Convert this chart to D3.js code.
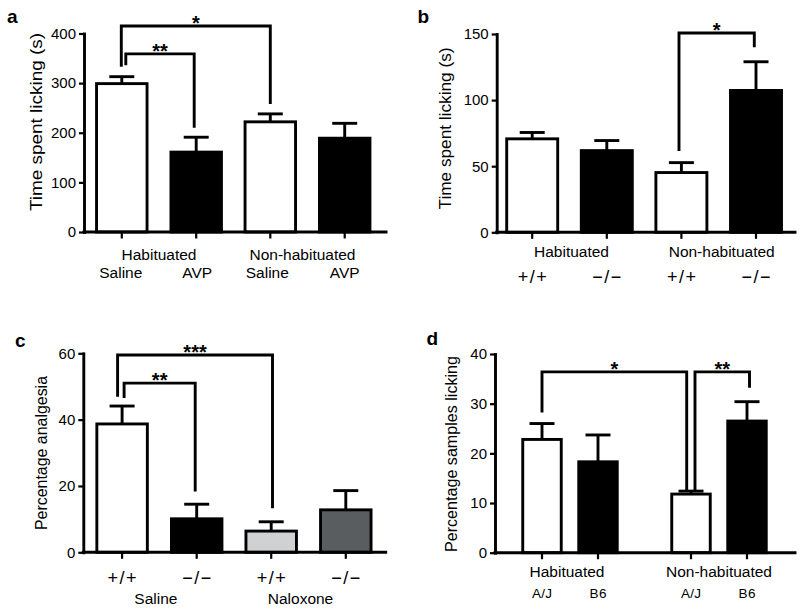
<!DOCTYPE html>
<html><head><meta charset="utf-8">
<script src="https://cdn.jsdelivr.net/npm/d3@7"></script>
<style>
body{margin:0;background:#fff}
svg text{font-family:"Liberation Sans",Arial,Helvetica,sans-serif;fill:#000}
</style></head><body>
<svg id="chart" width="800" height="610"></svg>
<script>
// ---------- DATA ----------
// Panel a
const aGroups = ["Habituated", "Non-habituated"];
const aCategories = ["Saline", "AVP", "Saline", "AVP"];
const aMeans = [299, 161, 222, 189];
const aErrors = [14, 30, 16, 30];
const aTicks = [0, 100, 200, 300, 400];
const aSig = [
  {from: 0, to: 2, label: "*",  level: 415, end1: 333, end2: 258},
  {from: 0, to: 1, label: "**", level: 359, end1: 336, end2: 210}
];
// Panel b
const bGroups = ["Habituated", "Non-habituated"];
const bCategories = ["+/+", "\u2212/\u2212", "+/+", "\u2212/\u2212"];
const bMeans = [70.7, 61.8, 45.2, 107.3];
const bErrors = [4.8, 7.6, 7.5, 21.7];
const bTicks = [0, 50, 100, 150];
const bSig = [
  {from: 2, to: 3, label: "*", level: 150.8, end1: 61.5, end2: 140}
];
// Panel c
const cGroups = ["Saline", "Naloxone"];
const cCategories = ["+/+", "\u2212/\u2212", "+/+", "\u2212/\u2212"];
const cMeans = [38.7, 10.1, 6.4, 12.8];
const cErrors = [5.4, 4.4, 2.8, 5.8];
const cTicks = [0, 20, 40, 60];
const cSig = [
  {from: 0, to: 2, label: "***", level: 59.5, end1: 46.9, end2: 13.3},
  {from: 0, to: 1, label: "**",  level: 51.0, end1: 46.5, end2: 18.3}
];
// Panel d
const dGroups = ["Habituated", "Non-habituated"];
const dCategories = ["A/J", "B6", "A/J", "B6"];
const dMeans = [22.8, 18.3, 11.8, 26.5];
const dErrors = [3.2, 5.4, 0.6, 3.9];
const dTicks = [0, 10, 20, 30, 40];
const dSig = [
  {from: 0, to: 2, label: "*",  level: 36.4, end1: 28.2, end2: 12.6},
  {from: 2, to: 3, label: "**", level: 36.4, end1: 12.6, end2: 33.2}
];

// ---------- STYLE / LAYOUT ----------
const WHITE = "#ffffff", BLACK = "#000000", LIGHT = "#cfd1d3", DARK = "#5a5d5f";
const SW = 2.9;

const panels = [
  {id: "a", groups: aGroups, cats: aCategories, means: aMeans, errs: aErrors, ticks: aTicks, sig: aSig,
   fills: [WHITE, BLACK, WHITE, BLACK], title: "Time spent licking (s)", titleLen: 178,
   axisX: 84, axisRight: 386, yBottom: 232, yTop: 33.5, groupRange: [159, 307.5], inner: 37.2, bw: 50.5,
   label: [7, 22.5], titleX: 36, titleY: 122, groupY: 259.5, catY: 277.5, groupDx: [0, -5], catDx: [-1, 1, -3, 0],
   catSize: 15.5, catSpacing: 0, sigDx: [[-0.5, 0], [4, -2]]},
  {id: "b", groups: bGroups, cats: bCategories, means: bMeans, errs: bErrors, ticks: bTicks, sig: bSig,
   fills: [WHITE, BLACK, WHITE, BLACK], title: "Time spent licking (s)", titleLen: 162,
   axisX: 496.7, axisRight: 795, yBottom: 232.3, yTop: 34, groupRange: [569.5, 718.7], inner: 37.3, bw: 51,
   label: [417.5, 22.5], titleX: 445.7, titleY: 128.5, groupY: 256.7, catY: 283, groupDx: [2, 3], catDx: [0, 0, 0, 0],
   catSize: 18, catSpacing: 1.5, sigDx: [[-2.4, -1.7]]},
  {id: "c", groups: cGroups, cats: cCategories, means: cMeans, errs: cErrors, ticks: cTicks, sig: cSig,
   fills: [WHITE, BLACK, LIGHT, DARK], title: "Percentage analgesia", titleLen: 154,
   axisX: 83.3, axisRight: 385.7, yBottom: 552.3, yTop: 353.3, groupRange: [159.4, 308.5], inner: 37.3, bw: 50.5,
   label: [15, 346.5], titleX: 41.7, titleY: 453, groupY: 603.5, catY: 584, groupDx: [-3.5, -8], catDx: [0, 0, 0, 0],
   catSize: 18, catSpacing: 1.5, sigDx: [[-4.5, 1.3], [2, -1.5]]},
  {id: "d", groups: dGroups, cats: dCategories, means: dMeans, errs: dErrors, ticks: dTicks, sig: dSig,
   fills: [WHITE, BLACK, WHITE, BLACK], title: "Percentage samples licking", titleLen: 196,
   axisX: 495, axisRight: 795, yBottom: 552.7, yTop: 354, groupRange: [570, 719], inner: 28, bw: 38.5,
   label: [426.5, 345], titleX: 451.7, titleY: 454, groupY: 577.3, catY: 597.7, groupDx: [-3, 0], catDx: [0, 0, 0, 0],
   catSize: 13.5, catSpacing: 0.3, sigDx: [[0, -4.3], [4, 2.5]]}
];

const svg = d3.select("#chart");

panels.forEach(p => {
  const g = svg.append("g");
  const yMax = p.ticks[p.ticks.length - 1];
  const y = d3.scaleLinear().domain([0, yMax]).range([p.yBottom, p.yTop]);
  const xGroup = d3.scalePoint().domain(p.groups).range(p.groupRange);
  const xInner = d3.scalePoint().domain([0, 1]).range([-p.inner, p.inner]);
  const cx = i => xGroup(p.groups[Math.floor(i / 2)]) + xInner(i % 2);
  const idx = d3.range(p.means.length);

  // bars
  g.selectAll("rect.bar").data(idx).join("rect")
    .attr("x", i => cx(i) - p.bw / 2)
    .attr("y", i => y(p.means[i]))
    .attr("width", p.bw)
    .attr("height", i => y(0) - y(p.means[i]))
    .attr("fill", i => p.fills[i])
    .attr("stroke", BLACK).attr("stroke-width", SW);

  // error bars
  g.selectAll("line.err").data(idx).join("line")
    .attr("x1", i => cx(i)).attr("x2", i => cx(i))
    .attr("y1", i => y(p.means[i])).attr("y2", i => y(p.means[i] + p.errs[i]))
    .attr("stroke", BLACK).attr("stroke-width", SW);
  g.selectAll("line.cap").data(idx).join("line")
    .attr("x1", i => cx(i) - 12.5).attr("x2", i => cx(i) + 12.5)
    .attr("y1", i => y(p.means[i] + p.errs[i])).attr("y2", i => y(p.means[i] + p.errs[i]))
    .attr("stroke", BLACK).attr("stroke-width", SW);

  // y axis
  const ya = g.append("g").attr("transform", `translate(${p.axisX},0)`)
    .call(d3.axisLeft(y).tickValues(p.ticks).tickSize(5).tickSizeOuter(0).tickPadding(3));
  ya.select(".domain").attr("stroke-width", SW).attr("stroke-linecap", "square");
  ya.selectAll(".tick line").attr("stroke-width", 2.2);
  ya.selectAll(".tick text").attr("font-size", 15).attr("font-family", "Liberation Sans, Arial, sans-serif");

  // x axis
  g.append("line").attr("x1", p.axisX).attr("x2", p.axisRight)
    .attr("y1", y(0)).attr("y2", y(0)).attr("stroke", BLACK).attr("stroke-width", SW)
    .attr("stroke-linecap", "square");
  g.selectAll("line.xt").data(idx).join("line")
    .attr("x1", i => cx(i)).attr("x2", i => cx(i))
    .attr("y1", y(0)).attr("y2", y(0) + 6.5)
    .attr("stroke", BLACK).attr("stroke-width", 2.2);

  // category labels
  g.selectAll("text.cat").data(idx).join("text")
    .attr("x", i => cx(i) + p.catDx[i] + p.catSpacing / 2).attr("y", p.catY)
    .attr("text-anchor", "middle").attr("font-size", p.catSize)
    .attr("letter-spacing", p.catSpacing)
    .text(i => p.cats[i]);
  // group labels
  g.selectAll("text.grp").data(p.groups).join("text")
    .attr("x", (d, j) => xGroup(d) + p.groupDx[j]).attr("y", p.groupY)
    .attr("text-anchor", "middle").attr("font-size", 15.5)
    .text(d => d);

  // y title
  g.append("text")
    .attr("transform", `translate(${p.titleX},${p.titleY}) rotate(-90)`)
    .attr("text-anchor", "middle").attr("dominant-baseline", "central")
    .attr("font-size", 16).attr("textLength", p.titleLen).attr("lengthAdjust", "spacingAndGlyphs")
    .text(p.title);

  // panel label
  g.append("text").attr("x", p.label[0]).attr("y", p.label[1])
    .attr("font-size", 19).attr("font-weight", "bold").text(p.id);

  // significance brackets
  p.sig.forEach((s, k) => {
    const xa = cx(s.from) + p.sigDx[k][0];
    const xb = cx(s.to) + p.sigDx[k][1];
    const path = d3.path();
    path.moveTo(xa, y(s.end1));
    path.lineTo(xa, y(s.level));
    path.lineTo(xb, y(s.level));
    path.lineTo(xb, y(s.end2));
    g.append("path").attr("d", path.toString()).attr("fill", "none")
      .attr("stroke", BLACK).attr("stroke-width", SW).attr("stroke-linejoin", "miter");
    g.append("text").attr("x", (xa + xb) / 2).attr("y", y(s.level) + 4)
      .attr("text-anchor", "middle").attr("font-weight", "bold")
      .attr("font-size", 20).text(s.label);
  });
});
</script>
</body></html>
